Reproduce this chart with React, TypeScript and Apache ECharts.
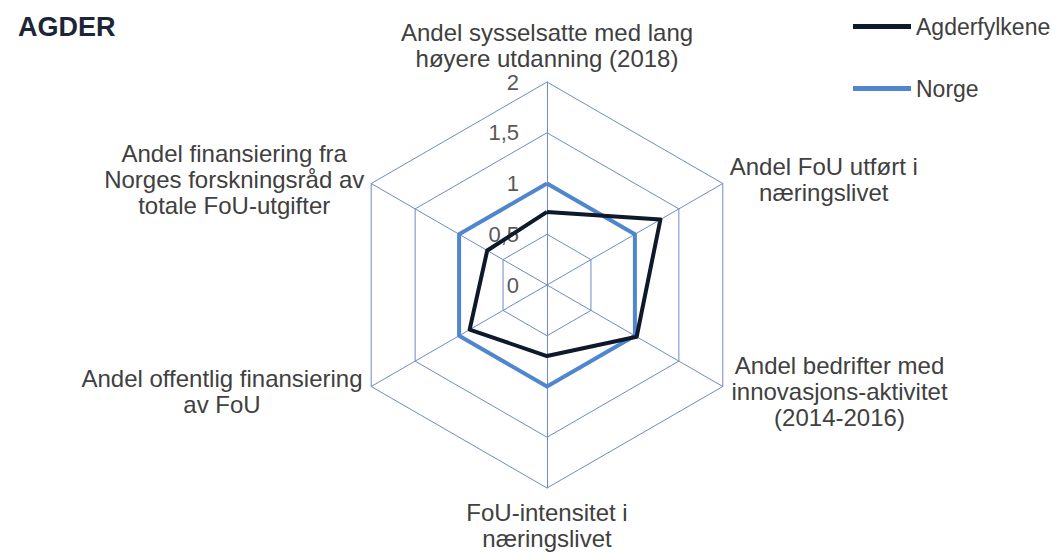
import React, { useEffect, useRef } from "react";
import * as echarts from "echarts";

const indicatorNames = [
  "Andel sysselsatte med lang\nhøyere utdanning (2018)",
  "Andel finansiering fra\nNorges forskningsråd av\ntotale FoU-utgifter",
  "Andel offentlig finansiering\nav FoU",
  "FoU-intensitet i\nnæringslivet",
  "Andel bedrifter med\ninnovasjons-aktivitet\n(2014-2016)",
  "Andel FoU utført i\nnæringslivet",
];
const axisMin = 0;
const axisMax = 2;
const agderValues = [0.72, 0.68, 0.88, 0.7, 1.02, 1.29];
const norgeValues = [1, 1, 1, 1, 1, 1];
const seriesNames = ["Agderfylkene", "Norge"];

const FONT = "Liberation Sans";
const TEXT = "#404040";
const GRID = "#6f8ac6";
const nameGaps = [8, 8, 10, 11, 10, 8];

export default function App() {
  const ref = useRef<HTMLDivElement>(null);
  useEffect(() => {
    if (!ref.current) return;
    const chart = echarts.init(ref.current, undefined, { renderer: "svg" });
    const indicators = indicatorNames.map((name, i) => ({
      name,
      min: axisMin,
      max: axisMax,
      nameGap: nameGaps[i],
      ...(i === 0
        ? {
            axisLabel: {
              show: true,
              margin: 28,
              color: "#595959",
              fontSize: 22,
              fontFamily: FONT,
              formatter: (v: number) => String(v).replace(".", ","),
            },
          }
        : {}),
    }));
    chart.setOption({
      animation: false,
      title: {
        text: "AGDER",
        left: 13,
        top: 8,
        textStyle: { fontFamily: FONT, fontSize: 27, fontWeight: "bold", color: "#1c2538" },
      },
      legend: {
        orient: "vertical",
        left: 848,
        top: 10,
        itemGap: 39,
        icon: "rect",
        itemWidth: 58,
        itemHeight: 5,
        data: seriesNames,
        textStyle: { fontFamily: FONT, fontSize: 23, color: TEXT },
      },
      radar: {
        center: [547, 285],
        radius: 203,
        startAngle: 90,
        splitNumber: 4,
        shape: "polygon",
        indicator: indicators,
        axisName: {
          color: TEXT,
          fontFamily: FONT,
          fontSize: 24,
          lineHeight: 25,
          formatter: (name: string) =>
            name
              .split("\n")
              .map((l) => `{c|${l}}`)
              .join("\n"),
          rich: {
            c: { align: "center", color: TEXT, fontFamily: FONT, fontSize: 24, lineHeight: 26 },
          },
        },
        axisLine: { show: true, lineStyle: { color: GRID, width: 1 } },
        splitLine: { show: true, lineStyle: { color: GRID, width: 1 } },
        splitArea: { show: false },
        axisTick: { show: false },
        axisLabel: { show: false },
      },
      series: [
        {
          type: "radar",
          name: seriesNames[1],
          symbol: "none",
          lineStyle: { width: 4, color: "#4f86cd" },
          itemStyle: { color: "#4f86cd" },
          data: [{ name: seriesNames[1], value: norgeValues }],
        },
        {
          type: "radar",
          name: seriesNames[0],
          symbol: "none",
          lineStyle: { width: 4, color: "#0e1a2b" },
          itemStyle: { color: "#0e1a2b" },
          data: [{ name: seriesNames[0], value: agderValues }],
        },
      ],
    });
    return () => chart.dispose();
  }, []);
  return (
    <div
      ref={ref}
      style={{ position: "fixed", left: 0, top: 0, width: 1052, height: 554, background: "#fff" }}
    />
  );
}
